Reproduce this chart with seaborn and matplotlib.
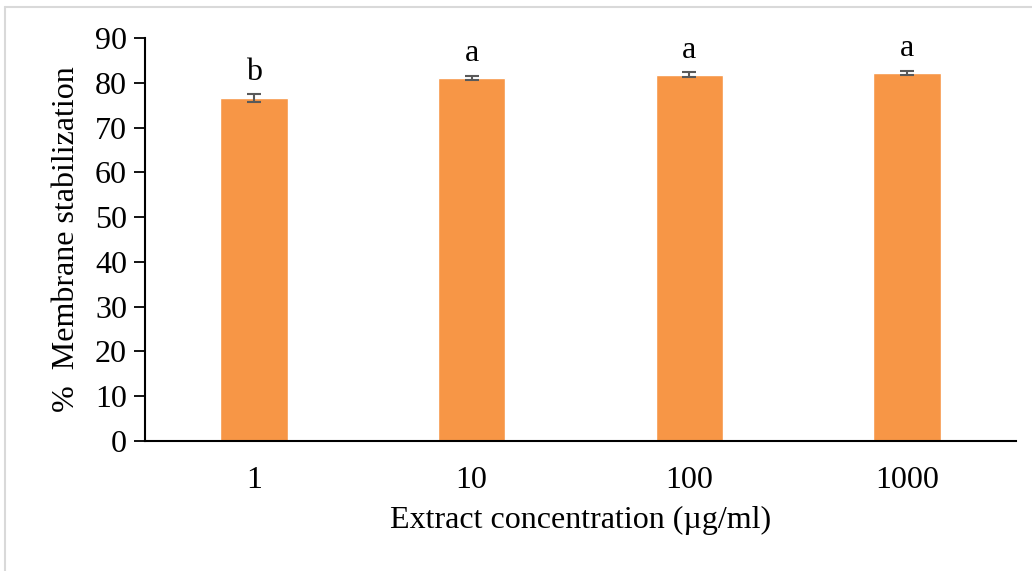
import matplotlib
matplotlib.use("Agg")
import matplotlib.pyplot as plt
import seaborn as sns
import pandas as pd
from matplotlib.lines import Line2D

categories = ["1", "10", "100", "1000"]
values = [76.6, 81.1, 81.8, 82.2]
errors = [0.8, 0.5, 0.6, 0.5]
letters = ["b", "a", "a", "a"]

sns.set_theme(style="white")
plt.rcParams['font.family'] = ['Liberation Serif', 'DejaVu Serif']

df = pd.DataFrame({"conc": categories, "val": values})

fig = plt.figure(figsize=(10.32, 5.71), dpi=100)
ax = fig.add_axes([0.1405, 0.2277, 0.8440, 0.7058])

sns.barplot(data=df, x="conc", y="val", color="#F79646", width=0.31,
            saturation=1, errorbar=None, ax=ax)
ax.errorbar(range(len(categories)), values, yerr=errors, fmt="none",
            ecolor="#595959", elinewidth=1.5, capsize=5, capthick=1.5)
for i, (v, e, l) in enumerate(zip(values, errors, letters)):
    ax.text(i, v + e + 3.2, l, ha="center", va="baseline", fontsize=23, color="black")

ax.set_xlim(-0.5, 3.5)
ax.set_ylim(0, 90)
ax.set_yticks(range(0, 91, 10))
ax.tick_params(axis="y", direction="out", length=8, width=1.3, labelsize=23, pad=5, left=True, colors="black")
ax.tick_params(axis="x", length=0, labelsize=23, pad=18, colors="black")
for s in ["top", "right"]:
    ax.spines[s].set_visible(False)
for s in ["left", "bottom"]:
    ax.spines[s].set_color("black")
    ax.spines[s].set_linewidth(1.5)
ax.set_xlabel("Extract concentration (µg/ml)", fontsize=23, labelpad=8, color="black")
ax.set_ylabel("%  Membrane stabilization", fontsize=23, labelpad=10, color="black")

# outer gray border (top and left)
fig.add_artist(Line2D([0.005, 1.0], [0.988, 0.988], transform=fig.transFigure, color="#D9D9D9", lw=1.5))
fig.add_artist(Line2D([0.005, 0.005], [0.0, 0.988], transform=fig.transFigure, color="#D9D9D9", lw=1.5))

fig.savefig("out.png", dpi=100, facecolor="white")
